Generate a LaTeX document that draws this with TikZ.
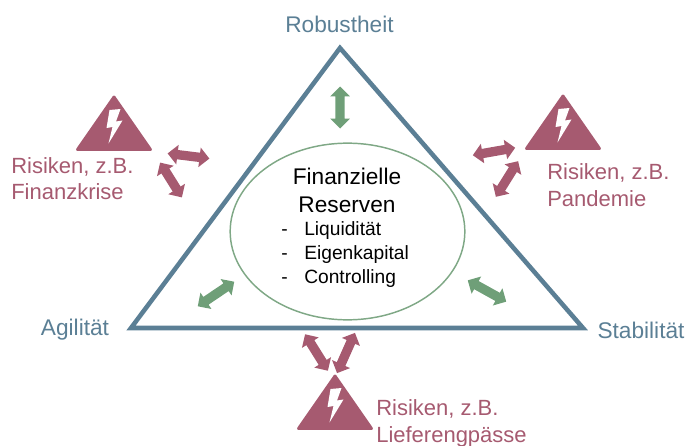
\documentclass[tikz,border=0pt]{standalone}
\usepackage{fontspec}
\setmainfont{Liberation Sans}
\usetikzlibrary{shapes.arrows,shapes.geometric}
\definecolor{framecol}{HTML}{5B7F95}
\definecolor{riskcol}{HTML}{A65A70}
\definecolor{greencol}{HTML}{6F9F78}
\definecolor{ringcol}{HTML}{7FA886}
\newcommand{\shaftbar}{\rule{0pt}{6.6pt}}
\tikzset{
  x=0.75pt,y=-0.75pt,
  blockarrow/.style={shape=double arrow,draw=none,inner sep=0pt,
    minimum height=#1*0.75pt,
    double arrow head extend=3.9pt,double arrow head indent=0pt},
  riskarrow/.style={blockarrow=#1,fill=riskcol},
  greenarrow/.style={blockarrow=#1,fill=greencol},
  lbl/.style={inner sep=0pt,font=\fontsize{16.5pt}{20pt}\selectfont},
  cornerlbl/.style={lbl,text=framecol,font=\fontsize{17pt}{20pt}\selectfont},
  risklbl/.style={lbl,text=riskcol,anchor=base west},
  bigtxt/.style={inner sep=0pt,anchor=base,font=\fontsize{17pt}{20pt}\selectfont},
  smalltxt/.style={inner sep=0pt,anchor=base west,font=\fontsize{14.4pt}{17pt}\selectfont},
  warn/.pic={
    \fill[riskcol,draw=riskcol,line width=2.2pt,line join=round]
      (0,2) -- (36.5,54.5) -- (-36.5,54.5) -- cycle;
    \fill[white] (-4.5,15) -- (6.5,14) -- (2,26.5) -- (8.5,25.5) -- (-5.5,48.5) -- (-1.5,32) -- (-7.5,33) -- cycle;
  }
}
\begin{document}
\begin{tikzpicture}
\useasboundingbox (0,0) rectangle (689,446);
% frame
\coordinate (apex) at (340,48);
\coordinate (bl) at (131,328);
\coordinate (br) at (583,328);
\draw[framecol,line width=3.4pt,line join=miter] (apex) -- (br) -- (bl) -- cycle;
\node[draw=ringcol,line width=1.1pt,shape=ellipse,inner sep=0pt,minimum width=176pt,minimum height=132.5pt] (ring) at (347.5,231.5) {};
% corner labels
\node[cornerlbl] (rob) at (339.5,24) {Robustheit};
\node[cornerlbl] (agi) at (75,330) {Agilität};
\node[cornerlbl] (sta) at (641,330) {Stabilität};
% centre
\node[bigtxt] (f1) at (347,184) {Finanzielle};
\node[bigtxt] (f2) at (347,212) {Reserven};
\node[smalltxt] (d1) at (281,235) {-};
\node[smalltxt] (d2) at (281,259) {-};
\node[smalltxt] (d3) at (281,283) {-};
\node[smalltxt] (l1) at (304,235) {Liquidität};
\node[smalltxt] (l2) at (304,259) {Eigenkapital};
\node[smalltxt] (l3) at (304,283) {Controlling};
% green arrows
\node[greenarrow=42,rotate=90] (g1) at (340,107.5) {\shaftbar};
\node[greenarrow=44,rotate=34] (g2) at (216,294) {\shaftbar};
\node[greenarrow=44,rotate=-29] (g3) at (487,291) {\shaftbar};
% warning signs
\pic (w1) at (114,95) {warn};
\pic (w2) at (563,94) {warn};
\pic (w3) at (335,374) {warn};
% risk arrows
\node[riskarrow=42,rotate=-7] (r1) at (188.5,156) {\shaftbar};
\node[riskarrow=41,rotate=-58] (r2) at (171,180) {\shaftbar};
\node[riskarrow=43,rotate=10] (r3) at (494,151.5) {\shaftbar};
\node[riskarrow=42,rotate=58] (r4) at (507,179) {\shaftbar};
\node[riskarrow=43,rotate=-58] (r5) at (316.5,352.5) {\shaftbar};
\node[riskarrow=44,rotate=66] (r6) at (346,353) {\shaftbar};
% risk labels
\node[risklbl] (a1) at (11,173) {Risiken, z.B.};
\node[risklbl] (a2) at (11,199) {Finanzkrise};
\node[risklbl] (b1) at (547,179) {Risiken, z.B.};
\node[risklbl] (b2) at (547,206) {Pandemie};
\node[risklbl] (c1) at (376,415) {Risiken, z.B.};
\node[risklbl] (c2) at (376,442) {Lieferengpässe};
\end{tikzpicture}
\end{document}
